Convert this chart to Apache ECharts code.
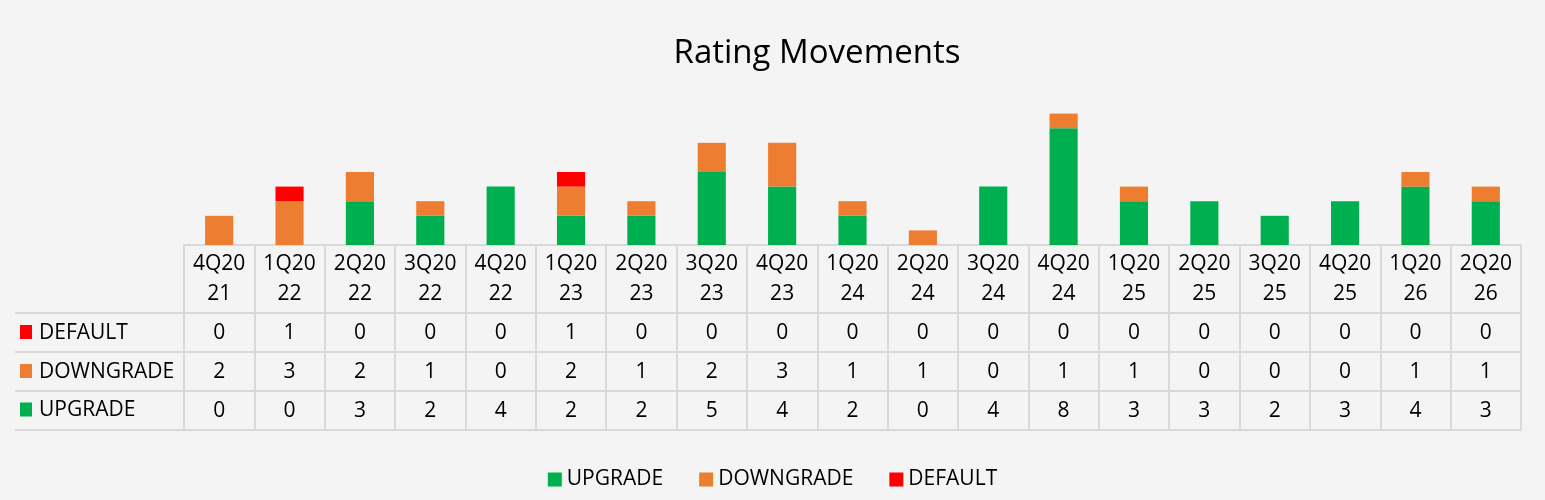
<!DOCTYPE html>
<html>
<head>
<meta charset="utf-8">
<script src="https://cdn.jsdelivr.net/npm/echarts@6/dist/echarts.min.js"></script>
<style>
html,body{margin:0;padding:0;background:#f4f4f4;}
#chart{width:1545px;height:500px;}
</style>
</head>
<body>
<div id="chart"></div>
<script>
const categories = ['4Q2021','1Q2022','2Q2022','3Q2022','4Q2022','1Q2023','2Q2023','3Q2023','4Q2023','1Q2024','2Q2024','3Q2024','4Q2024','1Q2025','2Q2025','3Q2025','4Q2025','1Q2026','2Q2026'];
const defaults   = [0,1,0,0,0,1,0,0,0,0,0,0,0,0,0,0,0,0,0];
const downgrades = [2,3,2,1,0,2,1,2,3,1,1,0,1,1,0,0,0,1,1];
const upgrades   = [0,0,3,2,4,2,2,5,4,2,0,4,8,3,3,2,3,4,3];
const seriesNames = ['UPGRADE','DOWNGRADE','DEFAULT'];
const colors = {UPGRADE:'#00B050', DOWNGRADE:'#ED7D31', DEFAULT:'#FF0000'};

const FONT = 'Open Sans';
const FS = 21;
const LINE = '#D9D9D9';
const chart = echarts.init(document.getElementById('chart'));

function rowAxis(offset, values, show) {
  return {
    type: 'category', data: categories, gridIndex: 0, position: 'bottom', offset: offset,
    axisLine: {show: true, lineStyle: {color: LINE, width: 2}},
    axisTick: {show: false},
    axisLabel: {show: show, interval: 0, margin: 10, color: '#000', fontFamily: FONT, fontSize: FS, lineHeight: 21,
      formatter: function (v, i) { return values ? String(values[i]) : ''; }}
  };
}

const rows = [
  {name: 'DEFAULT', y: 332},
  {name: 'DOWNGRADE', y: 371},
  {name: 'UPGRADE', y: 409.5}
];
const graphics = [];
[313, 352, 391, 430].forEach(function (y) {
  graphics.push({type: 'line', shape: {x1: 15, y1: y, x2: 184, y2: y}, style: {stroke: LINE, lineWidth: 2}, silent: true});
});
rows.forEach(function (r) {
  graphics.push({type: 'rect', shape: {x: 20, y: r.y - 7, width: 12, height: 14}, style: {fill: colors[r.name]}});
  graphics.push({type: 'text', x: 39, y: r.y + 1, style: {text: r.name, fill: '#000', font: FS + 'px "' + FONT + '"', verticalAlign: 'middle', align: 'left'}});
});

const option = {
  backgroundColor: '#f4f4f4',
  animation: false,
  title: {
    text: 'Rating Movements', left: 812, top: 32, textAlign: 'center',
    textStyle: {fontFamily: FONT, fontSize: 33, fontWeight: 'normal', color: '#000'}
  },
  legend: {
    data: seriesNames, bottom: 5, left: 'center', icon: 'rect', itemWidth: 14, itemHeight: 14, itemGap: 36,
    textStyle: {fontFamily: FONT, fontSize: FS, color: '#000'}
  },
  grid: {left: 184, right: 24, top: 99, bottom: 255, containLabel: false},
  yAxis: {type: 'value', min: 0, max: 10, show: false},
  xAxis: [
    {
      type: 'category', data: categories, gridIndex: 0, position: 'bottom',
      axisLine: {show: true, lineStyle: {color: LINE, width: 2}},
      axisTick: {show: true, length: 185, interval: 0, lineStyle: {color: LINE, width: 2}},
      axisLabel: {interval: 0, margin: 4, color: '#000', fontFamily: FONT, fontSize: FS, lineHeight: 30,
        formatter: function (v) { return v.slice(0, 4) + '\n' + v.slice(4); }}
    },
    rowAxis(68, defaults, true),
    rowAxis(107, downgrades, true),
    rowAxis(146, upgrades, true),
    rowAxis(185, null, false)
  ],
  series: [
    {name: 'UPGRADE', type: 'bar', stack: 'all', xAxisIndex: 0, data: upgrades, barWidth: '40%', itemStyle: {color: colors.UPGRADE}},
    {name: 'DOWNGRADE', type: 'bar', stack: 'all', xAxisIndex: 0, data: downgrades, barWidth: '40%', itemStyle: {color: colors.DOWNGRADE}},
    {name: 'DEFAULT', type: 'bar', stack: 'all', xAxisIndex: 0, data: defaults, barWidth: '40%', itemStyle: {color: colors.DEFAULT}}
  ],
  graphic: graphics
};
chart.setOption(option);
</script>
</body>
</html>
